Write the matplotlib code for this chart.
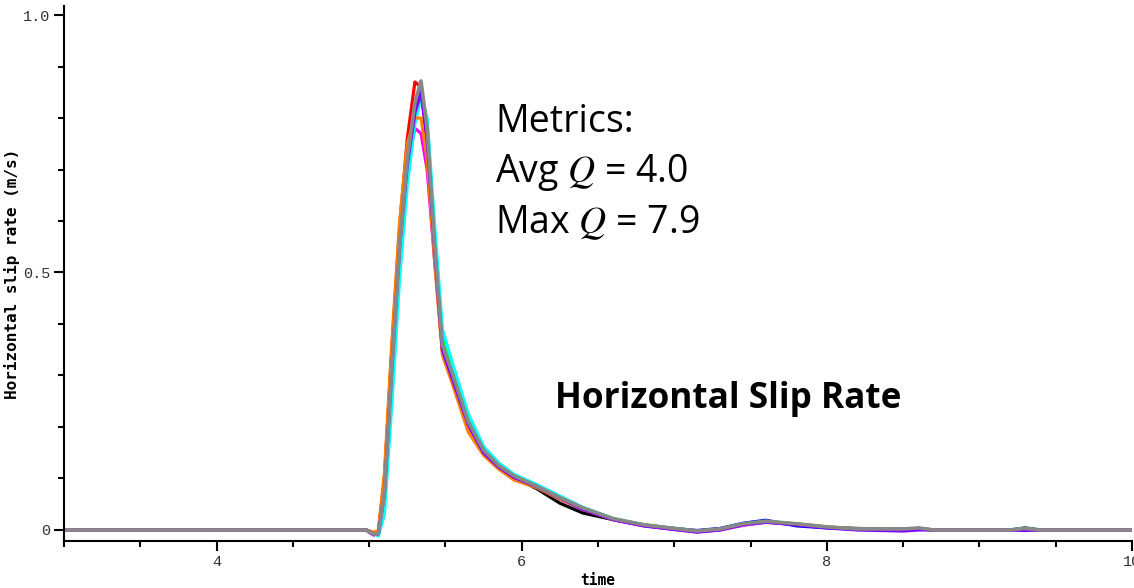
import matplotlib
matplotlib.use("Agg")
import matplotlib.pyplot as plt
from matplotlib.ticker import MultipleLocator, FixedLocator

# ---- data ----
times = [3.0, 4.9, 4.98, 5.03, 5.06, 5.10, 5.15, 5.20, 5.25, 5.30, 5.34, 5.38, 5.43, 5.48,
         5.55, 5.65, 5.75, 5.85, 5.95, 6.10, 6.25, 6.40, 6.60, 6.80, 7.00, 7.15, 7.30, 7.45,
         7.60, 7.80, 8.00, 8.20, 8.50, 8.60, 8.70, 9.20, 9.30, 9.40, 10.0]

black = [0, 0, 0, -0.006, -0.006, 0.08, 0.33, 0.56, 0.72, 0.82, 0.85, 0.77, 0.55, 0.36,
         0.30, 0.21, 0.152, 0.123, 0.102, 0.080, 0.052, 0.033, 0.020, 0.009, 0.002, -0.002, 0.002, 0.012,
         0.016, 0.010, 0.005, 0.003, 0.001, 0.002, 0.0, 0.0, 0.004, 0.0, 0.0]
red = [0, 0, 0, -0.006, -0.004, 0.10, 0.36, 0.59, 0.76, 0.87, 0.86, 0.75, 0.53, 0.35,
       0.29, 0.20, 0.150, 0.122, 0.100, 0.083, 0.062, 0.042, 0.021, 0.009, 0.002, -0.002, 0.002, 0.011,
       0.016, 0.011, 0.005, 0.002, 0.001, 0.003, 0.0, 0.0, 0.002, 0.0, 0.0]
blue = [0, 0, 0, -0.008, -0.009, 0.06, 0.31, 0.54, 0.71, 0.82, 0.86, 0.77, 0.55, 0.36,
        0.30, 0.21, 0.152, 0.123, 0.103, 0.084, 0.061, 0.040, 0.021, 0.010, 0.003, -0.001, 0.003, 0.013,
        0.019, 0.008, 0.004, 0.002, 0.001, 0.003, 0.0, 0.0, 0.002, 0.0, 0.0]
green = [0, 0, 0, -0.007, -0.010, 0.05, 0.29, 0.52, 0.70, 0.81, 0.85, 0.79, 0.57, 0.38,
         0.31, 0.22, 0.160, 0.127, 0.106, 0.086, 0.063, 0.043, 0.022, 0.010, 0.003, -0.002, 0.002, 0.012,
         0.017, 0.012, 0.006, 0.002, 0.002, 0.003, 0.0, 0.0, 0.002, 0.0, 0.0]
magenta = [0, 0, 0, -0.010, -0.005, 0.09, 0.34, 0.56, 0.71, 0.78, 0.77, 0.70, 0.52, 0.35,
           0.29, 0.20, 0.150, 0.120, 0.100, 0.083, 0.060, 0.040, 0.020, 0.008, 0.001, -0.004, 0.000, 0.009,
           0.015, 0.011, 0.005, 0.001, 0.001, 0.002, 0.0, 0.0, 0.001, 0.0, 0.0]
cyan = [0, 0, 0, -0.006, -0.012, 0.03, 0.25, 0.49, 0.67, 0.79, 0.84, 0.80, 0.59, 0.39,
        0.32, 0.225, 0.162, 0.130, 0.108, 0.088, 0.066, 0.044, 0.022, 0.010, 0.002, -0.003, 0.001, 0.011,
        0.016, 0.011, 0.005, 0.001, 0.0, 0.002, 0.0, 0.0, 0.003, 0.0, 0.0]
orange = [0, 0, 0, -0.004, -0.002, 0.11, 0.37, 0.60, 0.75, 0.80, 0.80, 0.72, 0.52, 0.34,
          0.28, 0.19, 0.145, 0.118, 0.097, 0.082, 0.060, 0.041, 0.020, 0.010, 0.002, -0.002, 0.001, 0.010,
          0.016, 0.012, 0.006, 0.002, 0.001, 0.002, 0.0, 0.0, 0.001, 0.0, 0.0]
purple = [0, 0, 0, -0.009, -0.008, 0.07, 0.32, 0.55, 0.71, 0.81, 0.85, 0.76, 0.54, 0.35,
          0.29, 0.205, 0.150, 0.122, 0.102, 0.084, 0.062, 0.041, 0.020, 0.008, 0.001, -0.004, 0.000, 0.010,
          0.015, 0.010, 0.004, 0.000, -0.002, 0.000, 0.0, 0.0, -0.001, 0.0, 0.0]
gray = [0, 0, 0, -0.008, -0.008, 0.07, 0.32, 0.55, 0.72, 0.83, 0.872, 0.78, 0.55, 0.36,
        0.30, 0.21, 0.155, 0.125, 0.105, 0.085, 0.063, 0.043, 0.022, 0.010, 0.003, -0.002, 0.002, 0.012,
        0.017, 0.012, 0.006, 0.002, 0.002, 0.004, 0.0, 0.0, 0.003, 0.0, 0.0]

series = [black, red, blue, green, magenta, cyan, orange, purple, gray]
colors = ["#000000", "#ff0000", "#0000ff", "#00ff00", "#ff00ff", "#00ffff", "#ff8000", "#8000ff", "#888888"]

x_ticks = [4, 6, 8, 10]
x_ticklabels = ["4", "6", "8", "10"]
y_ticks = [0, 0.5, 1.0]
y_ticklabels = ["0", "0.5", "1.0"]

# ---- figure ----
plt.rcParams["mathtext.fontset"] = "stix"
W, H = 1134, 588
fig = plt.figure(figsize=(W / 100, H / 100), dpi=100)
ax = fig.add_axes([64 / W, 1 - 541 / H, (1132 - 64) / W, (541 - 6) / H])

for vals, c in zip(series, colors):
    ax.plot(times, vals, color=c, lw=2.3 if c != "#888888" else 2.6,
            solid_capstyle="round", solid_joinstyle="round")

ax.set_xlim(3, 10)
ax.set_ylim(-0.0214, 1.0175)

for s in ("top", "right"):
    ax.spines[s].set_visible(False)
for s in ("left", "bottom"):
    ax.spines[s].set_linewidth(1.5)

ax.xaxis.set_major_locator(FixedLocator(x_ticks))
ax.set_xticklabels(x_ticklabels)
ax.xaxis.set_minor_locator(MultipleLocator(0.5))
ax.yaxis.set_major_locator(FixedLocator(y_ticks))
ax.set_yticklabels(y_ticklabels)
ax.yaxis.set_minor_locator(MultipleLocator(0.1))

ax.tick_params(which="major", length=7, width=1.5, direction="out", pad=3,
               labelsize=11, labelcolor="#333333")
ax.tick_params(which="minor", length=4.5, width=1.5, direction="out")
for lab in ax.get_xticklabels() + ax.get_yticklabels():
    lab.set_family("Liberation Mono")

ax.set_xlabel("time", fontfamily="DejaVu Sans Mono", fontweight="bold", fontsize=10.5, labelpad=3)
ax.set_ylabel("Horizontal slip rate (m/s)", fontfamily="DejaVu Sans Mono", fontweight="bold",
              fontsize=11.5)
ax.yaxis.label.set_va("center")
ax.yaxis.set_label_coords(-52 / 1068, 0.5)

def ftext(px, py, s, **kw):
    fig.text(px / W, 1 - py / H, s, ha="left", va="baseline", **kw)

ftext(495, 132, "Metrics:", fontfamily="Open Sans", fontsize=27)
ftext(495, 182, "Avg $Q$ = 4.0", fontfamily="Open Sans", fontsize=27)
ftext(495, 233, "Max $Q$ = 7.9", fontfamily="Open Sans", fontsize=27)
ftext(555, 408, "Horizontal Slip Rate", fontfamily="Open Sans", fontweight="bold", fontsize=25.3)

fig.savefig("out.png", dpi=100)
